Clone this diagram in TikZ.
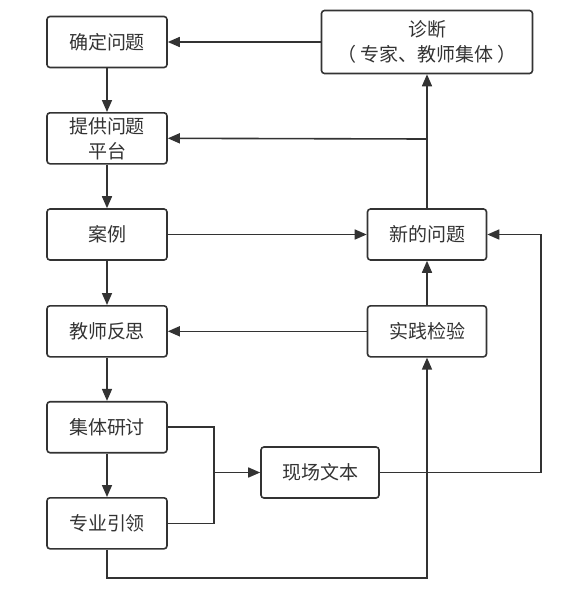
\documentclass[tikz,border=0pt]{standalone}
\usepackage{fontspec}
\newfontfamily\cjk{Noto Sans CJK SC}
\usetikzlibrary{arrows.meta,calc}
\definecolor{ln}{HTML}{333333}
\begin{document}
\begin{tikzpicture}[x=1pt,y=-1pt,
  box/.style={draw=ln, line width=1.6pt, rounded corners=3pt, minimum width=120pt, minimum height=51pt,
    align=center, inner sep=0pt, text=ln, font=\cjk\fontsize{19}{25}\selectfont},
  arr/.style={draw=ln, line width=1.6pt, -{Triangle[length=12pt,width=10pt]}},
  ln/.style={draw=ln, line width=1.6pt}]
\useasboundingbox (0,0) rectangle (573,598);
\node[box] (q1) at (107,42) {确定问题};
\node[box] (q2) at (107,138.3) {提供问题\\平台};
\node[box] (q3) at (107,234.5) {案例};
\node[box] (q4) at (107,331.3) {教师反思};
\node[box] (q5) at (107,427.2) {集体研讨};
\node[box] (q6) at (107,523.3) {专业引领};
\node[box, minimum width=211pt, minimum height=63pt] (diag) at (427,42) {诊断\\（\hspace{4pt}专家、教师集体\hspace{4pt}）};
\node[box, minimum width=119pt] (newq) at (427,234.5) {新的问题};
\node[box, minimum width=119pt] (prac) at (427,331.3) {实践检验};
\node[box, minimum width=118pt] (txt) at (320,472.5) {现场文本};
\coordinate (br) at (427,139);
\coordinate (j) at (214,472.5);
\coordinate (r) at (541,472.5);
\coordinate (bl) at (107,578);
% left column
\draw[arr] (q1) -- (q2);
\draw[arr] (q2) -- (q3);
\draw[arr] (q3) -- (q4);
\draw[arr] (q4) -- (q5);
\draw[arr] (q5) -- (q6);
% top
\draw[arr] (diag.west) -- (q1.east);
\draw[arr] (newq.north) -- (diag.south);
\draw[arr] (br) -- (q2.east);
% middle
\draw[arr] (q3.east) -- (newq.west);
\draw[arr] (prac.west) -- (q4.east);
\draw[arr] (prac.north) -- (newq.south);
% fork
\draw[ln] (q5.east) -| (j);
\draw[ln] (q6.east) -| (j);
\draw[arr] (j) -- (txt.west);
\draw[arr] (txt.east) -- (r) |- (newq.east);
\draw[arr] (q6.south) -- (bl) -| (prac.south);
\end{tikzpicture}
\end{document}
